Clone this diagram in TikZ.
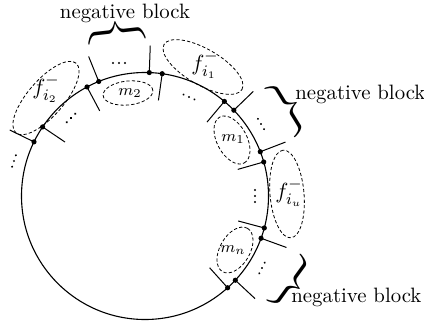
\documentclass[tikz,border=0pt]{standalone}
\usepackage{amsmath}
\usepackage{graphicx}
\usetikzlibrary{shapes.geometric,calc}
\tikzset{
  ring/.style={circle, draw, line width=0.55pt, minimum size=123.5pt, inner sep=0pt, outer sep=0pt},
  blob/.style={ellipse, draw, dash pattern=on 1.6pt off 1.1pt, line width=0.4pt, inner sep=0pt, outer sep=0pt},
  sepline/.style={line width=0.5pt},
  jdot/.style={circle, fill, inner sep=0pt, minimum size=2.6pt},
  flbl/.style={inner sep=0pt, font=\fontsize{11}{12}\selectfont},
  mlbl/.style={inner sep=0pt, font=\fontsize{8.5}{10}\selectfont},
  neg/.style={inner sep=0pt, font=\fontsize{10.4}{12}\selectfont},
  brc/.style={inner sep=0pt, anchor=west, font=\fontsize{13}{15}\selectfont},
}
\newcommand\tripledots[2]{%
  \begin{scope}[shift={(#1)}, rotate=#2]
    \foreach \k in {-1,0,1} \fill (\k*3pt,0pt) circle[radius=0.55pt];
  \end{scope}}
\newcommand\bracesym[1]{\scalebox{1.75}[1]{$\nulldelimiterspace=0pt\left.\vcenter{\hrule height #1 width 0pt}\right\}$}}
\begin{document}
\begin{tikzpicture}[x=0.5pt,y=-0.5pt]
\useasboundingbox (0,0) rectangle (424,322);
\node[ring] (ring) at (145,196) {};
% separators: angle / radius of free end / name
\foreach \a/\r/\n in {154/75.25/g1, 146/48.25/g2, 118/48.25/a1, 112/75.25/a2,
                      88/75.25/b1, 82/48.25/b2, 50/48.25/c1, 44/75.25/c2,
                      21/75.25/d1, 16/48.25/d2, -15/48.25/e1, -20/75.25/e2,
                      -43/75.25/f1, -48/48.25/f2} {
  \coordinate (t\n) at ($(ring.center)+(\a:\r pt)$);
  \node[jdot] (d\n) at (ring.\a) {};
  \draw[sepline] (d\n.center) -- (t\n);
}
% dashed blobs
\node[blob, minimum width=46pt, minimum height=18pt, rotate=49] (fi2) at (46,98) {};
\node[blob, minimum width=25pt, minimum height=12pt, rotate=6] (m2) at (128,93) {};
\node[blob, minimum width=45pt, minimum height=18pt, rotate=-30] (fi1) at (203,67) {};
\node[blob, minimum width=26pt, minimum height=15pt, rotate=-62] (m1) at (232,140) {};
\node[blob, minimum width=44pt, minimum height=17pt, rotate=95] (fiu) at (287,194) {};
\node[blob, minimum width=25pt, minimum height=15pt, rotate=60] (mn) at (235,250) {};
% labels
\node[flbl] (lfi2) at (46,89) {$f_{i_2}^-$};
\node[mlbl] (lm2) at (130,93) {$m_2$};
\node[flbl] (lfi1) at (205,65) {$f_{i_1}^-$};
\node[mlbl] (lm1) at (233,139) {$m_1$};
\node[flbl] (lfiu) at (289,193) {$f_{i_u}^-$};
\node[mlbl] (lmn) at (233,250) {$m_n$};
% ellipsis dots
\tripledots{119,63}{0}
\tripledots{71,118}{45}
\tripledots{189,97}{-24}
\tripledots{261,124}{-59}
\tripledots{255,196}{90}
\tripledots{262,268}{63}
\tripledots{14,161}{72}
% braces
\node[brc, rotate=96.3] (br1) at (118.5,48) {\bracesym{30pt}};
\node[brc, rotate=31.5] (br2) at (275,116) {\bracesym{31pt}};
\node[brc, rotate=-36] (br3) at (279,274) {\bracesym{31pt}};
% texts
\node[neg] (n1) at (125,13) {negative block};
\node[neg, anchor=west] (n2) at (295,94) {negative block};
\node[neg, anchor=west] (n3) at (291,297) {negative block};
\end{tikzpicture}
\end{document}
